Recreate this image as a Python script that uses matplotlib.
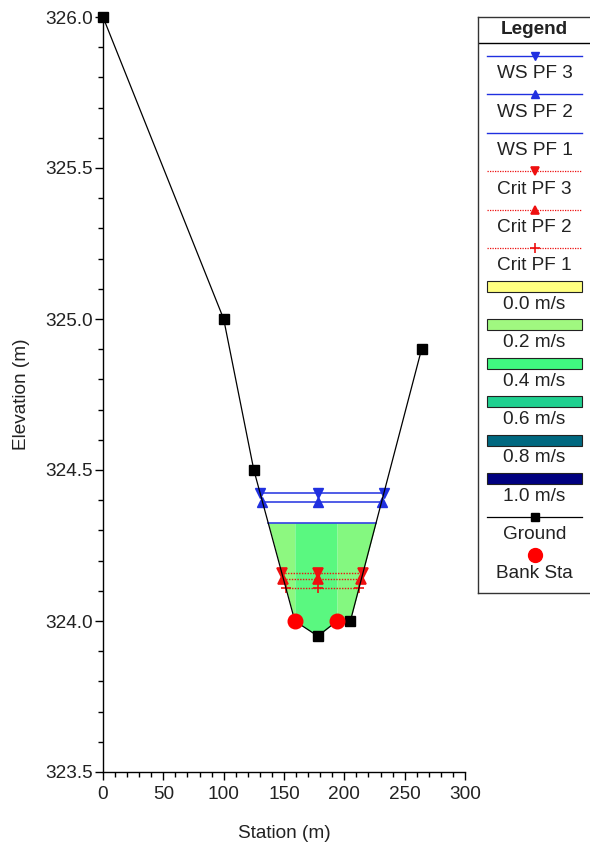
import numpy as np
import matplotlib
matplotlib.use("Agg")
import matplotlib.pyplot as plt
from matplotlib.colors import LinearSegmentedColormap
from matplotlib.ticker import MultipleLocator, FormatStrFormatter

plt.rcParams['font.family'] = ['Liberation Sans', 'DejaVu Sans']

# ---- data ----
ground_sta = [0, 100, 125, 159, 178, 194, 205, 264]
ground_elev = [326.0, 325.0, 324.5, 324.0, 323.95, 324.0, 324.0, 324.9]
bank_sta = [159, 194]
bank_elev = [324.0, 324.0]
ws_names = ["WS PF 3", "WS PF 2", "WS PF 1"]
ws_elev = [324.423, 324.395, 324.325]
crit_names = ["Crit PF 3", "Crit PF 2", "Crit PF 1"]
crit_elev = [324.16, 324.14, 324.108]
vel_band_edges = [159, 194]           # internal band boundaries (bank stations)
vel_band_values = [0.24, 0.345, 0.26]  # m/s: left overbank, channel, right overbank
vel_legend_values = [0.0, 0.2, 0.4, 0.6, 0.8, 1.0]
vel_legend_colors = ["#ffff80", "#a0f880", "#40f880", "#20d090", "#006880", "#000080"]
marker_sta = 178

cmap = LinearSegmentedColormap.from_list("vel", list(zip(vel_legend_values, vel_legend_colors)))

W, H = 590, 843
fig = plt.figure(figsize=(W / 100, H / 100), dpi=100)
ax = fig.add_axes([103 / W, 1 - 772 / H, (465 - 103) / W, (772 - 17) / H])

gs = np.array(ground_sta, float)
ge = np.array(ground_elev, float)
thal = int(np.argmin(ge))


def crossing(level):
    left = np.interp(level, ge[:thal + 1][::-1], gs[:thal + 1][::-1])
    right = np.interp(level, ge[thal:], gs[thal:])
    return left, right


# velocity fill below WS PF 1
lev = ws_elev[2]
xl, xr = crossing(lev)
edges = [xl] + vel_band_edges + [xr]
for i in range(len(edges) - 1):
    a, b = edges[i], edges[i + 1]
    xs = np.concatenate([[a], gs[(gs > a) & (gs < b)], [b]])
    ys = np.interp(xs, gs, ge)
    ax.fill_between(xs, ys, lev, color=cmap(vel_band_values[i]), lw=0, zorder=1)

BLUE = '#2030e0'
RED = '#ee1010'
FS = 13.7

# water surfaces
ws_markers = ['v', '^', None]
for e, m in zip(ws_elev, ws_markers):
    l, r = crossing(e)
    ax.plot([l, r], [e, e], color=BLUE, lw=1.1, zorder=3)
    if m:
        ax.plot([l, marker_sta, r], [e, e, e], ls='none', marker=m, ms=7,
                color=BLUE, zorder=4)

crit_markers = ['v', '^', '+']
for e, m in zip(crit_elev, crit_markers):
    l, r = crossing(e)
    ax.plot([l, r], [e, e], color=RED, lw=1.0, ls=(0, (1, 1)), zorder=3)
    ax.plot([l, marker_sta, r], [e, e, e], ls='none', marker=m, ms=7,
            mew=1.2, color=RED, zorder=4)

# ground
ax.plot(gs, ge, color='black', lw=0.9, zorder=5)
ax.plot([s for s in ground_sta if s not in bank_sta],
        [e for s, e in zip(ground_sta, ground_elev) if s not in bank_sta],
        ls='none', marker='s', ms=6.5, color='black', zorder=6, clip_on=False)
ax.plot(bank_sta, bank_elev, ls='none', marker='o', ms=10.5, color='#ff0000', zorder=6)

ax.set_xlim(0, 300)
ax.set_ylim(323.5, 326.0)
ax.xaxis.set_major_locator(MultipleLocator(50))
ax.xaxis.set_minor_locator(MultipleLocator(10))
ax.yaxis.set_major_locator(MultipleLocator(0.5))
ax.yaxis.set_minor_locator(MultipleLocator(0.1))
ax.yaxis.set_major_formatter(FormatStrFormatter('%.1f'))
for s in ['top', 'right']:
    ax.spines[s].set_visible(False)
for s in ['left', 'bottom']:
    ax.spines[s].set_linewidth(1.0)
ax.tick_params(which='major', length=6, width=1, labelsize=FS, colors='black', labelcolor='#222222', pad=1.5)
ax.tick_params(axis='x', which='major', pad=4)
ax.tick_params(which='minor', length=3.5, width=1, colors='black')
ax.set_xlabel("Station (m)", fontsize=FS, color='#222222', labelpad=16)
ax.set_ylabel("Elevation (m)", fontsize=FS, color='#222222', labelpad=11)

# ---- legend panel ----
lg = fig.add_axes([478 / W, 1 - 593 / H, 120 / W, (593 - 17) / H])
lg.set_xlim(478, 598)
lg.set_ylim(593, 17)
lg.set_xticks([])
lg.set_yticks([])
for s in lg.spines.values():
    s.set_linewidth(1.0)
    s.set_color('#333333')
cx = 534.5
x0, x1 = 487, 582
lg.text(cx, 29, "Legend", ha='center', va='center', fontsize=FS, fontweight='bold', color='#222222')
lg.plot([478, 598], [43, 43], color='black', lw=1.0)

entry_y = 56
step = 38.4
labels = ws_names + crit_names
for i, name in enumerate(labels):
    y = entry_y + i * step
    if i < 3:
        lg.plot([x0, x1], [y, y], color=BLUE, lw=1.0)
        if ws_markers[i]:
            lg.plot([cx], [y], marker=ws_markers[i], ms=6, color=BLUE)
    else:
        m = crit_markers[i - 3]
        lg.plot([x0, x1], [y, y], color=RED, lw=0.9, ls=(0, (1, 1)))
        lg.plot([cx], [y], marker=m, ms=6 if m != '+' else 7, mew=1.2, color=RED)
    lg.text(cx, y + 18, name, ha='center', va='center', fontsize=FS, color='#222222')

for j, (v, c) in enumerate(zip(vel_legend_values, vel_legend_colors)):
    y = entry_y + (6 + j) * step
    lg.add_patch(plt.Rectangle((x0, y - 5.5), x1 - x0, 11, facecolor=c, edgecolor='#222222', lw=0.8))
    lg.text(cx, y + 18, f"{v:.1f} m/s", ha='center', va='center', fontsize=FS, color='#222222')

y = entry_y + 12 * step
lg.plot([x0, x1], [y, y], color='black', lw=0.9)
lg.plot([cx], [y], marker='s', ms=6, color='black')
lg.text(cx, y + 18, "Ground", ha='center', va='center', fontsize=FS, color='#222222')
y = entry_y + 13 * step
lg.plot([cx], [y], marker='o', ms=10, color='#ff0000')
lg.text(cx, y + 18, "Bank Sta", ha='center', va='center', fontsize=FS, color='#222222')

fig.savefig("out.png", dpi=100)
